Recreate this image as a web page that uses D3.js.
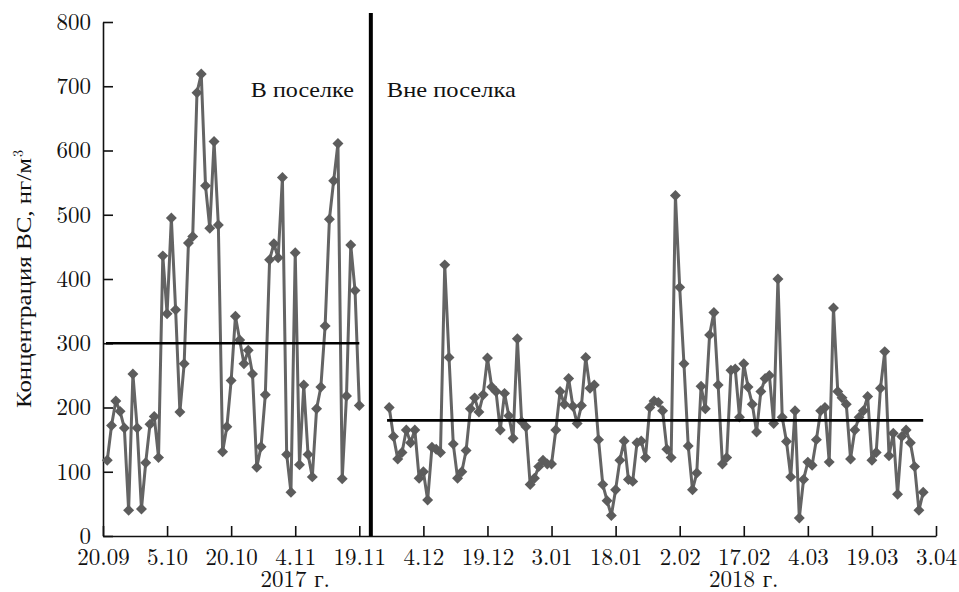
<!DOCTYPE html>
<html>
<head>
<meta charset="utf-8">
<script src="https://cdn.jsdelivr.net/npm/d3@7"></script>
<style>
body { margin: 0; background: #fff; }
</style>
</head>
<body>
<svg id="chart" width="959" height="592"></svg>
<script>
// day 0 = 20.09.2017, one measurement per day
var tickDays = [0, 15, 30, 45, 60, 75, 90, 105, 120, 135, 150, 165, 180, 195];
var tickLabels = ["20.09", "5.10", "20.10", "4.11", "19.11", "4.12", "19.12",
                  "3.01", "18.01", "2.02", "17.02", "4.03", "19.03", "3.04"];
var yTicks = [0, 100, 200, 300, 400, 500, 600, 700, 800];

var yearLabels = ["2017 г.", "2018 г."];
var yearDays = [45, 150];

// "В поселке"
var villageStart = 1;
var villageValues = [118, 172, 210, 194, 168, 40, 252, 168, 42, 114,
                     174, 186, 122, 436, 346, 495, 352, 193, 268, 456,
                     466, 690, 719, 545, 479, 614, 484, 131, 170, 242,
                     342, 305, 268, 289, 252, 107, 139, 220, 430, 455,
                     433, 558, 127, 68, 441, 111, 235, 127, 92, 198,
                     232, 327, 493, 553, 611, 89, 218, 453, 382, 203];
var villageMean = 300;

// "Вне поселка"
var outsideStart = 67;
var outsideValues = [200, 155, 120, 130, 165, 145, 165, 90, 100, 56,
                     138, 135, 130, 422, 278, 143, 90, 100, 133, 198,
                     215, 193, 220, 277, 232, 225, 165, 222, 187, 152,
                     307, 178, 170, 80, 90, 108, 118, 112, 112, 165,
                     225, 205, 245, 202, 175, 203, 278, 230, 235, 150,
                     80, 55, 32, 72, 118, 148, 88, 85, 145, 148,
                     122, 200, 210, 208, 195, 135, 122, 530, 387, 268,
                     140, 72, 98, 233, 198, 313, 348, 235, 112, 122,
                     258, 260, 185, 268, 232, 205, 162, 225, 245, 250,
                     175, 400, 185, 147, 92, 195, 28, 88, 115, 110,
                     150, 195, 200, 115, 355, 225, 215, 205, 120, 165,
                     185, 195, 217, 118, 130, 230, 287, 125, 160, 65,
                     155, 165, 145, 108, 40, 68];
var outsideMean = 180;

var dividerDay = 62.7;
var yLabel = "Концентрация ВС, нг/м";
var villageText = "В поселке";
var outsideText = "Вне поселка";

var serif = "'Latin Modern Roman', 'Liberation Serif'";
var cyr = "'Liberation Serif'";

var svg = d3.select("#chart");

var x = d3.scaleLinear().domain([0, 195]).range([103, 936]);
var y = d3.scaleLinear().domain([0, 800]).range([536, 22]);

function toPoints(start, values) {
    return values.map(function (v, i) { return { day: start + i, value: v }; });
}
var village = toPoints(villageStart, villageValues);
var outside = toPoints(outsideStart, outsideValues);

// axes, ticks pointing inwards
svg.append("g")
    .attr("transform", "translate(0," + y(0) + ")")
    .call(d3.axisBottom(x)
        .tickValues(tickDays)
        .tickFormat(function (d, i) { return tickLabels[i]; })
        .tickSizeInner(-10)
        .tickSizeOuter(0)
        .tickPadding(13));

svg.append("g")
    .attr("transform", "translate(" + x(0) + ",0)")
    .call(d3.axisLeft(y)
        .tickValues(yTicks)
        .tickSizeInner(-10)
        .tickSizeOuter(0)
        .tickPadding(12));

svg.selectAll(".domain").attr("stroke", "#111").attr("stroke-width", 1.6);
svg.selectAll(".tick line").attr("stroke", "#111").attr("stroke-width", 1.6);
svg.selectAll(".tick text")
    .attr("fill", "#111")
    .style("font-family", serif)
    .style("font-size", "23px");

svg.append("g")
    .selectAll("text")
    .data(yearLabels)
    .join("text")
    .attr("x", function (d, i) { return x(yearDays[i]); })
    .attr("y", 587)
    .attr("text-anchor", "middle")
    .attr("fill", "#111")
    .style("font-family", serif)
    .style("font-size", "23px")
    .text(function (d) { return d; });

// rotated axis title, stretched to the width of the original lettering
var yl = svg.append("g")
    .attr("transform", "translate(31,408) rotate(-90)");
yl.append("text")
    .attr("x", 0)
    .attr("y", 0)
    .attr("textLength", 250)
    .attr("lengthAdjust", "spacingAndGlyphs")
    .attr("fill", "#111")
    .style("font-family", cyr)
    .style("font-size", "21px")
    .text(yLabel);
yl.append("text")
    .attr("x", 251)
    .attr("y", -8)
    .attr("fill", "#111")
    .style("font-family", serif)
    .style("font-size", "14px")
    .text("3");

// series
var line = d3.line()
    .x(function (d) { return x(d.day); })
    .y(function (d) { return y(d.value); });

var diamond = d3.symbol().type(d3.symbolSquare).size(60);

[village, outside].forEach(function (series) {
    svg.append("path")
        .datum(series)
        .attr("fill", "none")
        .attr("stroke", "#646464")
        .attr("stroke-width", 3)
        .attr("stroke-linejoin", "round")
        .attr("d", line);

    svg.append("g")
        .selectAll("path")
        .data(series)
        .join("path")
        .attr("fill", "#5c5c5c")
        .attr("transform", function (d) {
            return "translate(" + x(d.day) + "," + y(d.value) + ") rotate(45)";
        })
        .attr("d", diamond);
});

// mean levels
var means = [
    { from: villageStart - 0.3, to: villageStart + villageValues.length - 1, value: villageMean },
    { from: outsideStart - 0.5, to: outsideStart + outsideValues.length - 1, value: outsideMean }
];
svg.append("g")
    .selectAll("line")
    .data(means)
    .join("line")
    .attr("x1", function (d) { return x(d.from); })
    .attr("x2", function (d) { return x(d.to); })
    .attr("y1", function (d) { return y(d.value); })
    .attr("y2", function (d) { return y(d.value); })
    .attr("stroke", "#000")
    .attr("stroke-width", 2.6);

// divider between the two sites
svg.append("line")
    .attr("x1", x(dividerDay))
    .attr("x2", x(dividerDay))
    .attr("y1", y(0))
    .attr("y2", 13)
    .attr("stroke", "#000")
    .attr("stroke-width", 4);

svg.append("text")
    .attr("x", x(dividerDay) - 17)
    .attr("y", 97)
    .attr("text-anchor", "end")
    .attr("textLength", 103)
    .attr("lengthAdjust", "spacingAndGlyphs")
    .attr("fill", "#111")
    .style("font-family", cyr)
    .style("font-size", "22px")
    .text(villageText);

svg.append("text")
    .attr("x", x(dividerDay) + 16)
    .attr("y", 97)
    .attr("textLength", 129)
    .attr("lengthAdjust", "spacingAndGlyphs")
    .attr("fill", "#111")
    .style("font-family", cyr)
    .style("font-size", "22px")
    .text(outsideText);
</script>
</body>
</html>
